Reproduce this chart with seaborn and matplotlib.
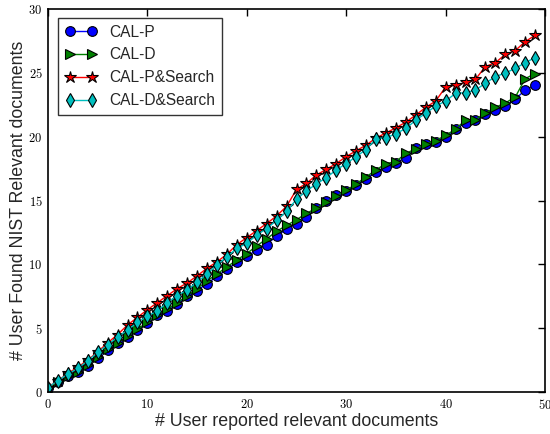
import numpy as np
import pandas as pd
import matplotlib
matplotlib.use("Agg")
import matplotlib.pyplot as plt
from matplotlib.ticker import FuncFormatter
import seaborn as sns

x_reported = list(range(50))

cal_p = [0.3, 0.8, 1.25, 1.6, 2.05, 2.7, 3.3, 3.8, 4.3, 4.85,
         5.4, 6.0, 6.35, 6.9, 7.5, 7.95, 8.5, 9.05, 9.6, 10.15,
         10.65, 11.1, 11.55, 12.25, 12.75, 13.2, 13.7, 14.4, 14.95, 15.4,
         15.75, 16.25, 16.7, 17.25, 17.65, 17.95, 18.35, 19.1, 19.45, 19.6,
         20.0, 20.6, 21.1, 21.3, 21.75, 22.1, 22.4, 22.95, 23.65, 24.05]

cal_d = [0.3, 0.8, 1.25, 1.6, 2.1, 2.75, 3.4, 3.85, 4.35, 4.9,
         5.5, 6.05, 6.5, 7.0, 7.55, 8.1, 8.7, 9.25, 9.8, 10.35,
         10.85, 11.45, 12.0, 12.6, 13.05, 13.5, 14.0, 14.4, 14.9, 15.35,
         15.8, 16.3, 16.85, 17.4, 17.9, 18.05, 18.7, 19.05, 19.45, 19.7,
         20.1, 20.6, 21.3, 21.35, 21.85, 22.3, 22.65, 23.1, 24.55, 24.95]

cal_p_search = [0.35, 0.9, 1.45, 1.95, 2.5, 3.15, 3.85, 4.5, 5.25, 5.85,
                6.45, 7.0, 7.55, 8.1, 8.55, 9.1, 9.7, 10.2, 10.8, 11.55,
                12.1, 12.65, 13.2, 13.8, 14.55, 15.87, 16.35, 17.0, 17.45, 17.9,
                18.45, 18.9, 19.35, 19.9, 20.3, 20.7, 21.15, 21.7, 22.3, 22.8,
                23.9, 24.05, 24.25, 24.5, 25.5, 25.8, 26.45, 26.75, 27.45, 27.95]

cal_d_search = [0.35, 0.9, 1.4, 1.85, 2.45, 3.1, 3.7, 4.3, 4.85, 5.45,
                5.95, 6.35, 7.0, 7.55, 8.0, 8.6, 9.25, 9.95, 10.6, 11.25,
                11.65, 12.3, 12.8, 13.45, 14.15, 15.1, 15.75, 16.3, 16.8, 17.4,
                17.9, 18.45, 19.0, 19.85, 19.9, 20.25, 20.65, 21.3, 21.85, 22.4,
                22.8, 23.4, 23.45, 23.65, 24.2, 24.7, 25.0, 25.35, 25.8, 26.2]

series_names = ["CAL-P", "CAL-D", "CAL-P&Search", "CAL-D&Search"]
series_values = [cal_p, cal_d, cal_p_search, cal_d_search]
series_colors = ["#0000ff", "#008000", "#ff0000", "#00bfbf"]
series_markers = ["o", ">", "*", "d"]

x_ticks = [0, 10, 20, 30, 40, 50]
y_ticks = [0, 5, 10, 15, 20, 25, 30]

sns.set_style("white")
plt.rcParams["font.family"] = ["Liberation Sans", "DejaVu Sans"]
plt.rcParams["mathtext.fontset"] = "cm"

fig = plt.figure(figsize=(5.5, 4.34), dpi=100)
ax = fig.add_axes([0.0873, 0.0968, 0.9037, 0.8822])

for name, vals, col, mk in zip(series_names, series_values, series_colors, series_markers):
    ms = 9 if mk == "*" else 7
    sns.lineplot(x=x_reported, y=vals, ax=ax, color=col, marker=mk,
                 markersize=ms, markeredgecolor="black", markeredgewidth=0.8,
                 linewidth=1.0, label=name)

ax.set_xlim(0, 50)
ax.set_ylim(0, 30)
ax.set_xticks(x_ticks)
ax.set_yticks(y_ticks)
fmt = FuncFormatter(lambda v, p: r"$%g$" % v)
ax.xaxis.set_major_formatter(fmt)
ax.yaxis.set_major_formatter(fmt)
ax.tick_params(direction="in", length=5, width=1, top=True, right=True,
               labelsize=9, colors="black", pad=4)
for s in ax.spines.values():
    s.set_color("black")
    s.set_linewidth(1.2)

ax.set_xlabel("# User reported relevant documents", fontsize=12.8, labelpad=1)
ax.set_ylabel("# User Found NIST Relevant documents", fontsize=12.8, labelpad=1)

leg = ax.legend(loc="upper left", numpoints=2, fancybox=False, fontsize=11.2,
                frameon=True, borderpad=0.45, handlelength=2.0, handletextpad=0.8,
                labelspacing=0.5, bbox_to_anchor=(0.005, 0.998))
leg.get_frame().set_edgecolor("black")
leg.get_frame().set_linewidth(1.0)

fig.savefig("out.png", dpi=100)
